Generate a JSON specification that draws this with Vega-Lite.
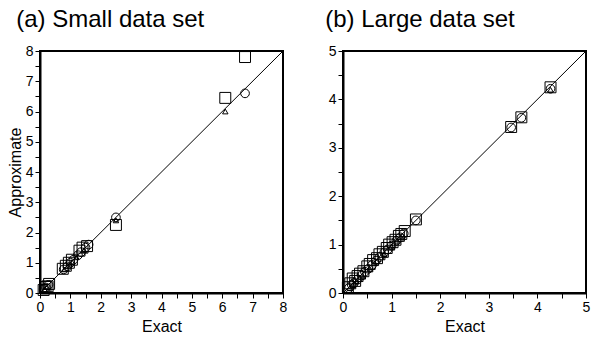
{
  "$schema": "https://vega.github.io/schema/vega-lite/v6.json",
  "background": "white",
  "padding": {"left": 6, "top": 7, "right": 5, "bottom": 2},
  "spacing": 36,
  "config": {
    "font": "Liberation Sans",
    "view": {"stroke": "black", "strokeWidth": 2},
    "axis": {
      "domainColor": "black", "domainWidth": 2, "tickColor": "black", "tickSize": 5,
      "labelFont": "Liberation Sans", "labelColor": "black", "labelFontSize": 14, "labelOverlap": false,
      "titleFont": "Liberation Sans", "titleFontSize": 16, "titleFontWeight": "normal", "titleColor": "black",
      "grid": false
    },
    "title": {"font": "Liberation Sans", "fontSize": 24, "fontWeight": "normal", "anchor": "start", "color": "black"}
  },
  "datasets": {
    "small": [
      {"shape": "square", "x": 0.12, "y": 0.1}, {"shape": "square", "x": 0.18, "y": 0.2}, {"shape": "square", "x": 0.25, "y": 0.22}, {"shape": "square", "x": 0.3, "y": 0.3},
      {"shape": "square", "x": 0.75, "y": 0.8}, {"shape": "square", "x": 0.85, "y": 0.9}, {"shape": "square", "x": 0.95, "y": 1.0}, {"shape": "square", "x": 1.05, "y": 1.1},
      {"shape": "square", "x": 1.3, "y": 1.4}, {"shape": "square", "x": 1.4, "y": 1.5}, {"shape": "square", "x": 1.55, "y": 1.55}, {"shape": "square", "x": 2.5, "y": 2.25},
      {"shape": "square", "x": 6.1, "y": 6.45}, {"shape": "square", "x": 6.75, "y": 7.8},
      {"shape": "circle", "x": 0.12, "y": 0.13}, {"shape": "circle", "x": 0.2, "y": 0.18}, {"shape": "circle", "x": 0.28, "y": 0.27}, {"shape": "circle", "x": 0.78, "y": 0.78},
      {"shape": "circle", "x": 0.9, "y": 0.88}, {"shape": "circle", "x": 1.0, "y": 1.0}, {"shape": "circle", "x": 1.1, "y": 1.1}, {"shape": "circle", "x": 1.25, "y": 1.25},
      {"shape": "circle", "x": 1.35, "y": 1.35}, {"shape": "circle", "x": 1.5, "y": 1.5}, {"shape": "circle", "x": 1.6, "y": 1.6}, {"shape": "circle", "x": 2.5, "y": 2.5},
      {"shape": "circle", "x": 6.75, "y": 6.6},
      {"shape": "triangle-up", "x": 0.15, "y": 0.12}, {"shape": "triangle-up", "x": 0.22, "y": 0.2}, {"shape": "triangle-up", "x": 0.8, "y": 0.78}, {"shape": "triangle-up", "x": 0.92, "y": 0.9},
      {"shape": "triangle-up", "x": 1.05, "y": 1.02}, {"shape": "triangle-up", "x": 1.2, "y": 1.18}, {"shape": "triangle-up", "x": 1.45, "y": 1.42}, {"shape": "triangle-up", "x": 2.5, "y": 2.4},
      {"shape": "triangle-up", "x": 6.1, "y": 6.0}
    ],
    "large": [
      {"shape": "square", "x": 0.1, "y": 0.12}, {"shape": "square", "x": 0.15, "y": 0.2}, {"shape": "square", "x": 0.2, "y": 0.3}, {"shape": "square", "x": 0.25, "y": 0.25},
      {"shape": "square", "x": 0.3, "y": 0.35}, {"shape": "square", "x": 0.35, "y": 0.4}, {"shape": "square", "x": 0.42, "y": 0.45}, {"shape": "square", "x": 0.5, "y": 0.55},
      {"shape": "square", "x": 0.55, "y": 0.6}, {"shape": "square", "x": 0.62, "y": 0.68}, {"shape": "square", "x": 0.7, "y": 0.72}, {"shape": "square", "x": 0.75, "y": 0.8},
      {"shape": "square", "x": 0.82, "y": 0.85}, {"shape": "square", "x": 0.9, "y": 0.93}, {"shape": "square", "x": 0.95, "y": 1.0}, {"shape": "square", "x": 1.02, "y": 1.05},
      {"shape": "square", "x": 1.08, "y": 1.1}, {"shape": "square", "x": 1.15, "y": 1.18}, {"shape": "square", "x": 1.2, "y": 1.22}, {"shape": "square", "x": 1.27, "y": 1.28},
      {"shape": "square", "x": 1.5, "y": 1.52}, {"shape": "square", "x": 3.46, "y": 3.43}, {"shape": "square", "x": 3.67, "y": 3.63}, {"shape": "square", "x": 4.27, "y": 4.25},
      {"shape": "circle", "x": 0.12, "y": 0.1}, {"shape": "circle", "x": 0.18, "y": 0.17}, {"shape": "circle", "x": 0.22, "y": 0.2}, {"shape": "circle", "x": 0.3, "y": 0.28},
      {"shape": "circle", "x": 0.38, "y": 0.36}, {"shape": "circle", "x": 0.45, "y": 0.44}, {"shape": "circle", "x": 0.52, "y": 0.5}, {"shape": "circle", "x": 0.6, "y": 0.58},
      {"shape": "circle", "x": 0.68, "y": 0.67}, {"shape": "circle", "x": 0.75, "y": 0.74}, {"shape": "circle", "x": 0.85, "y": 0.84}, {"shape": "circle", "x": 0.92, "y": 0.9},
      {"shape": "circle", "x": 1.0, "y": 0.98}, {"shape": "circle", "x": 1.1, "y": 1.08}, {"shape": "circle", "x": 1.18, "y": 1.15}, {"shape": "circle", "x": 1.25, "y": 1.23},
      {"shape": "circle", "x": 1.5, "y": 1.5}, {"shape": "circle", "x": 3.46, "y": 3.42}, {"shape": "circle", "x": 3.67, "y": 3.62}, {"shape": "circle", "x": 4.27, "y": 4.22},
      {"shape": "triangle-up", "x": 0.14, "y": 0.1}, {"shape": "triangle-up", "x": 0.2, "y": 0.16}, {"shape": "triangle-up", "x": 0.28, "y": 0.24}, {"shape": "triangle-up", "x": 0.4, "y": 0.36},
      {"shape": "triangle-up", "x": 0.55, "y": 0.5}, {"shape": "triangle-up", "x": 0.7, "y": 0.66}, {"shape": "triangle-up", "x": 0.85, "y": 0.8}, {"shape": "triangle-up", "x": 1.0, "y": 0.96},
      {"shape": "triangle-up", "x": 1.12, "y": 1.08}, {"shape": "triangle-up", "x": 1.22, "y": 1.18}, {"shape": "triangle-up", "x": 4.27, "y": 4.2}
    ],
    "diagSmall": [{"x": 0, "y": 0}, {"x": 8, "y": 8}],
    "diagLarge": [{"x": 0, "y": 0}, {"x": 5, "y": 5}]
  },
  "hconcat": [
    {
      "width": 243, "height": 242,
      "title": {"text": "(a) Small data set", "frame": "bounds", "offset": 12, "dx": 9},
      "encoding": {
        "x": {"field": "x", "type": "quantitative", "scale": {"domain": [0, 8], "nice": false},
              "axis": {"title": "Exact", "values": [0,0.5,1,1.5,2,2.5,3,3.5,4,4.5,5,5.5,6,6.5,7,7.5,8], "labelExpr": "datum.value % 1 === 0 ? format(datum.value, 'd') : ''", "labelFlush": false, "labelOverlap": false}},
        "y": {"field": "y", "type": "quantitative", "scale": {"domain": [0, 8], "nice": false},
              "axis": {"title": "Approximate", "values": [0,0.5,1,1.5,2,2.5,3,3.5,4,4.5,5,5.5,6,6.5,7,7.5,8], "labelExpr": "datum.value % 1 === 0 ? format(datum.value, 'd') : ''", "labelFlush": false, "labelOverlap": false, "titlePadding": 2}}
      },
      "layer": [
        {
          "data": {"name": "diagSmall"},
          "mark": {"type": "line", "color": "black", "strokeWidth": 1}
        },
        {
          "data": {"name": "small"},
          "mark": {"type": "point", "filled": false, "color": "black", "strokeWidth": 1, "opacity": 1},
          "encoding": {
            "shape": {"field": "shape", "type": "nominal", "scale": {"domain": ["square", "circle", "triangle-up"], "range": ["square", "circle", "triangle-up"]}, "legend": null},
            "size": {"field": "shape", "type": "nominal", "scale": {"domain": ["square", "circle", "triangle-up"], "range": [120, 30, 40]}, "legend": null}
          }
        }
      ]
    },
    {
      "width": 243, "height": 242,
      "title": {"text": "(b) Large data set", "frame": "bounds", "offset": 12, "dx": -3},
      "encoding": {
        "x": {"field": "x", "type": "quantitative", "scale": {"domain": [0, 5], "nice": false},
              "axis": {"title": "Exact", "values": [0,0.5,1,1.5,2,2.5,3,3.5,4,4.5,5], "labelExpr": "datum.value % 1 === 0 ? format(datum.value, 'd') : ''", "labelFlush": false, "labelOverlap": false}},
        "y": {"field": "y", "type": "quantitative", "scale": {"domain": [0, 5], "nice": false},
              "axis": {"title": null, "values": [0,0.5,1,1.5,2,2.5,3,3.5,4,4.5,5], "labelExpr": "datum.value % 1 === 0 ? format(datum.value, 'd') : ''", "labelFlush": false, "labelOverlap": false}}
      },
      "layer": [
        {
          "data": {"name": "diagLarge"},
          "mark": {"type": "line", "color": "black", "strokeWidth": 1}
        },
        {
          "data": {"name": "large"},
          "mark": {"type": "point", "filled": false, "color": "black", "strokeWidth": 1, "opacity": 1},
          "encoding": {
            "shape": {"field": "shape", "type": "nominal", "scale": {"domain": ["square", "circle", "triangle-up"], "range": ["square", "circle", "triangle-up"]}, "legend": null},
            "size": {"field": "shape", "type": "nominal", "scale": {"domain": ["square", "circle", "triangle-up"], "range": [120, 30, 40]}, "legend": null}
          }
        }
      ]
    }
  ]
}
